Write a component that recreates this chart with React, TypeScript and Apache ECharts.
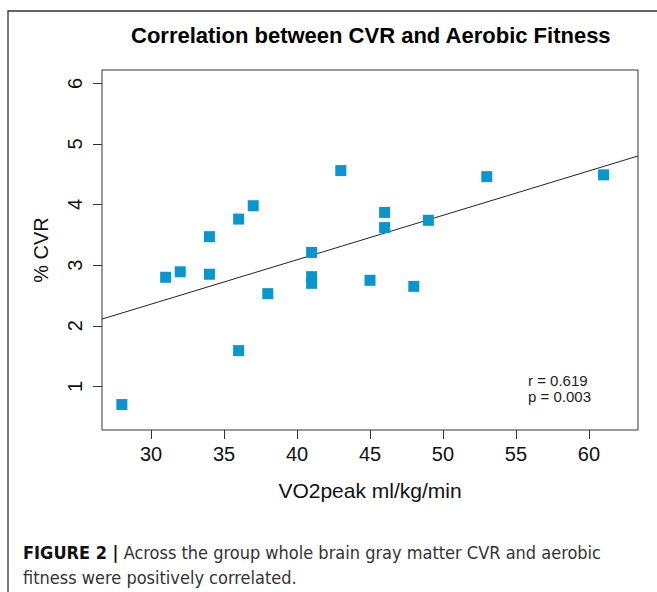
import React, { useEffect, useRef } from "react";
import * as echarts from "echarts";

const vo2peak = [28, 31, 32, 34, 34, 36, 36, 37, 38, 41, 41, 41, 43, 45, 46, 46, 48, 49, 53, 61];
const cvr = [0.7, 2.8, 2.89, 3.47, 2.85, 3.76, 1.59, 3.98, 2.53, 3.21, 2.81, 2.7, 4.56, 2.75, 3.87, 3.62, 2.65, 3.74, 4.46, 4.49];
const xTicks = [30, 35, 40, 45, 50, 55, 60];
const yTicks = [1, 2, 3, 4, 5, 6];
const xRange = [26.64, 63.36];
const yRange = [0.28, 6.22];
const fitIntercept = 0.157;
const fitSlope = 0.0733;
const statsText = ["r = 0.619", "p = 0.003"];
const titleText = "Correlation between CVR and Aerobic Fitness";
const xName = "VO2peak ml/kg/min";
const yName = "% CVR";
const captionBold = "FIGURE 2 |";
const captionLine1 = " Across the group whole brain gray matter CVR and aerobic";
const captionLine2 = "fitness were positively correlated.";

const FONT = "'Liberation Sans', Arial, Helvetica, sans-serif";
const NARROW = "'Liberation Sans Narrow', 'Arial Narrow', 'DejaVu Sans Condensed', sans-serif";

export default function App() {
  const ref = useRef<HTMLDivElement>(null);
  useEffect(() => {
    if (!ref.current) return;
    const chart = echarts.init(ref.current, null, { renderer: "svg" });
    const points = vo2peak.map((x, i) => [x, cvr[i]]);
    const fitLine = xRange.map((x) => [x, fitIntercept + fitSlope * x]);
    chart.setOption({
      animation: false,
      backgroundColor: "#ffffff",
      title: {
        text: titleText,
        left: 131,
        top: 24,
        padding: 0,
        textStyle: { fontFamily: FONT, fontSize: 22, fontWeight: "bold", color: "#000" },
      },
      grid: {
        left: 102,
        top: 70,
        width: 536,
        height: 360,
        show: true,
        borderColor: "#333",
        borderWidth: 1,
        backgroundColor: "transparent",
      },
      xAxis: {
        type: "value",
        min: xRange[0],
        max: xRange[1],
        name: xName,
        nameLocation: "middle",
        nameGap: 50,
        nameTextStyle: { fontFamily: FONT, fontSize: 21, color: "#111" },
        axisLine: { show: false },
        splitLine: { show: false },
        axisTick: { show: true, length: 9, customValues: xTicks, lineStyle: { color: "#333" } },
        axisLabel: { customValues: xTicks, margin: 14, fontFamily: FONT, fontSize: 20, color: "#111" },
      },
      yAxis: {
        type: "value",
        min: yRange[0],
        max: yRange[1],
        name: yName,
        nameLocation: "middle",
        nameRotate: 90,
        nameGap: 51,
        nameTextStyle: { fontFamily: FONT, fontSize: 20, color: "#111" },
        axisLine: { show: false },
        splitLine: { show: false },
        axisTick: { show: true, length: 9, customValues: yTicks, lineStyle: { color: "#333" } },
        axisLabel: { customValues: yTicks, rotate: 90, margin: 17, fontFamily: FONT, fontSize: 20, color: "#111" },
      },
      series: [
        {
          type: "line",
          data: fitLine,
          showSymbol: false,
          symbol: "none",
          lineStyle: { color: "#222", width: 1 },
          silent: true,
          z: 1,
        },
        {
          type: "scatter",
          data: points,
          symbol: "rect",
          symbolSize: 11,
          itemStyle: { color: "#0796d0", opacity: 1 },
          z: 2,
        },
      ],
      graphic: [
        {
          type: "polyline",
          shape: { points: [[657, 11], [8, 11], [8, 592]] },
          style: { stroke: "#333", lineWidth: 1.3, fill: "none" },
        },
        {
          type: "text",
          x: 528,
          y: 380,
          style: { text: statsText[0], fontFamily: FONT, fontSize: 15, fill: "#222", verticalAlign: "middle" },
        },
        {
          type: "text",
          x: 528,
          y: 396,
          style: { text: statsText[1], fontFamily: FONT, fontSize: 15, fill: "#222", verticalAlign: "middle" },
        },
        {
          type: "text",
          x: 23,
          y: 552,
          style: {
            text: "{b|" + captionBold + "}{n|" + captionLine1 + "}",
            verticalAlign: "middle",
            rich: {
              b: { fontFamily: NARROW, fontSize: 18, fontWeight: "bold", fill: "#111", color: "#111" },
              n: { fontFamily: NARROW, fontSize: 18, fill: "#333", color: "#333" },
            },
          },
        },
        {
          type: "text",
          x: 23,
          y: 577,
          style: { text: captionLine2, fontFamily: NARROW, fontSize: 18, fill: "#333", verticalAlign: "middle" },
        },
      ],
    });
    return () => chart.dispose();
  }, []);
  return (
    <div
      ref={ref}
      style={{ position: "fixed", left: 0, top: 0, width: 657, height: 592, background: "#fff" }}
    />
  );
}
